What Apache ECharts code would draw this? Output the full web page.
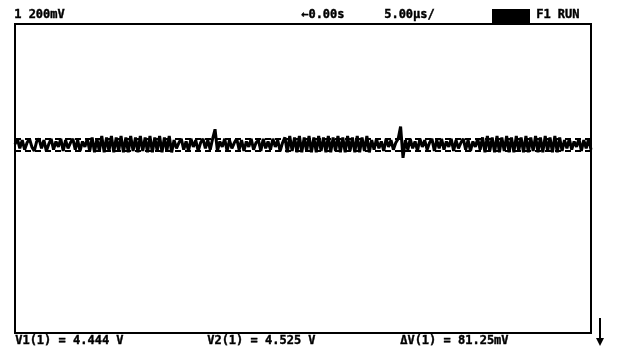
<!DOCTYPE html>
<html>
<head>
<meta charset="utf-8">
<script src="https://cdn.jsdelivr.net/npm/echarts@6/dist/echarts.min.js"></script>
<style>
  html, body { margin: 0; padding: 0; background: #fff; }
  #chart { width: 620px; height: 351px; }
</style>
</head>
<body>
<div id="chart"></div>
<script>
// trace samples (volts), read left to right across the screen
const traceA = [
  4.49, 4.53, 4.46, 4.52, 4.45, 4.50, 4.53, 4.47, 4.44, 4.51,
  4.53, 4.46, 4.52, 4.44, 4.49, 4.53, 4.45, 4.51, 4.47, 4.53,
  4.44, 4.52, 4.46, 4.50, 4.53, 4.45, 4.52, 4.44, 4.51, 4.47,
  4.53, 4.44, 4.54, 4.43, 4.53, 4.44, 4.55, 4.43, 4.54, 4.44
];
const traceB = [
  4.55, 4.43, 4.54, 4.44, 4.55, 4.43, 4.54, 4.43, 4.55, 4.44,
  4.54, 4.43, 4.55, 4.44, 4.54, 4.43, 4.55, 4.43, 4.54, 4.44,
  4.55, 4.43, 4.54, 4.44, 4.55, 4.43, 4.52, 4.46, 4.50, 4.53,
  4.45, 4.51, 4.44, 4.53, 4.47, 4.52, 4.44, 4.50, 4.53, 4.46
];
const traceC = [
  4.52, 4.45, 4.53, 4.60, 4.44, 4.51, 4.47, 4.53, 4.44, 4.52,
  4.46, 4.50, 4.53, 4.45, 4.52, 4.44, 4.51, 4.47, 4.53, 4.45,
  4.50, 4.52, 4.44, 4.53, 4.46, 4.51, 4.45, 4.53, 4.47, 4.52,
  4.44, 4.50, 4.54, 4.43, 4.55, 4.44, 4.54, 4.43, 4.55, 4.43
];
const traceD = [
  4.54, 4.44, 4.55, 4.43, 4.54, 4.43, 4.55, 4.44, 4.54, 4.43,
  4.55, 4.43, 4.54, 4.44, 4.55, 4.43, 4.54, 4.43, 4.55, 4.44,
  4.54, 4.43, 4.55, 4.43, 4.54, 4.44, 4.55, 4.43, 4.52, 4.45,
  4.53, 4.46, 4.51, 4.44, 4.53, 4.47, 4.52, 4.45, 4.50, 4.53
];
const traceE = [
  4.62, 4.39, 4.52, 4.45, 4.53, 4.46, 4.51, 4.44, 4.53, 4.47,
  4.52, 4.45, 4.50, 4.53, 4.44, 4.52, 4.46, 4.53, 4.45, 4.51,
  4.47, 4.53, 4.44, 4.52, 4.46, 4.50, 4.53, 4.45, 4.52, 4.44,
  4.51, 4.47, 4.53, 4.45, 4.54, 4.43, 4.55, 4.44, 4.54, 4.43
];
const traceF = [
  4.55, 4.43, 4.54, 4.44, 4.55, 4.43, 4.54, 4.43, 4.55, 4.44,
  4.54, 4.43, 4.55, 4.43, 4.54, 4.44, 4.55, 4.43, 4.54, 4.43,
  4.55, 4.44, 4.54, 4.43, 4.55, 4.43, 4.54, 4.44, 4.52, 4.46,
  4.53, 4.45, 4.51, 4.47, 4.53, 4.44, 4.52, 4.46, 4.53, 4.45
];

// cursor levels V1, V2
const cursorLevels = [4.444, 4.525];

// screen texts
const headerTexts = ['1 200mV', '\u21900.00s', '5.00\u00b5s/', 'F1 RUN'];
const footerTexts = ['V1(1) = 4.444 V', 'V2(1) = 4.525 V', '\u0394V(1) = 81.25mV'];

const trace = [].concat(traceA, traceB, traceC, traceD, traceE, traceF);
const samples = trace.map((v, i) => i);

const chart = echarts.init(document.getElementById('chart'));

const font = 'DejaVu Sans Mono';
const screenText = (x, y, text, size) => ({
  type: 'text',
  left: x,
  top: y,
  style: {
    text: text,
    fill: '#000',
    stroke: '#000',
    lineWidth: 0.4,
    font: 'bold ' + (size || 11) + 'px "' + font + '"'
  }
});

chart.setOption({
  backgroundColor: '#fff',
  animation: false,
  grid: {
    left: 15,
    right: 29,
    top: 24,
    bottom: 18,
    show: true,
    borderColor: '#000',
    borderWidth: 2,
    backgroundColor: 'transparent'
  },
  xAxis: {
    type: 'category',
    data: samples,
    boundaryGap: false,
    show: false
  },
  yAxis: {
    type: 'value',
    min: 3.1,
    max: 5.375,
    show: false
  },
  series: [
    {
      type: 'line',
      data: trace,
      symbol: 'none',
      lineStyle: { color: '#000', width: 3 },
      markLine: {
        silent: true,
        symbol: 'none',
        label: { show: false },
        lineStyle: { color: '#000', type: [6, 4], width: 2 },
        data: cursorLevels.map((v) => ({ yAxis: v }))
      }
    }
  ],
  graphic: [
    screenText(14, 9, headerTexts[0], 12),
    screenText(301, 9, headerTexts[1], 12),
    screenText(384, 9, headerTexts[2], 12),
    { type: 'rect', shape: { x: 492, y: 9, width: 38, height: 15 }, style: { fill: '#000' } },
    screenText(536, 9, headerTexts[3], 12),
    screenText(15, 335, footerTexts[0], 12),
    screenText(207, 335, footerTexts[1], 12),
    screenText(400, 335, footerTexts[2], 12),
    { type: 'line', shape: { x1: 600, y1: 318, x2: 600, y2: 340 }, style: { stroke: '#000', lineWidth: 2 } },
    { type: 'polygon', shape: { points: [[596, 338], [604, 338], [600, 346]] }, style: { fill: '#000' } }
  ]
});
</script>
</body>
</html>
